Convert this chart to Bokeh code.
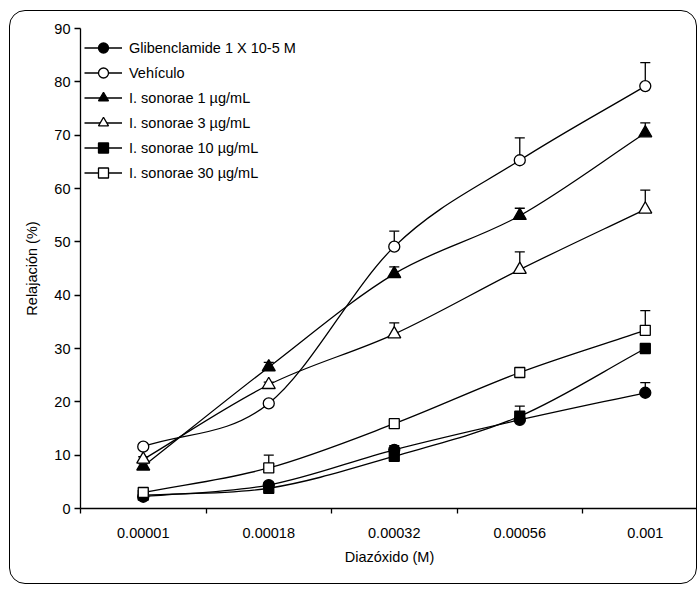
import numpy as np
from bokeh.plotting import figure
from bokeh.models import FixedTicker, Legend, LegendItem, Range1d
from bokeh.embed import file_html
from bokeh.resources import INLINE

# Diazoxide concentrations (M), one category per dose
doses = ["0.00001", "0.00018", "0.00032", "0.00056", "0.001"]

# Mean relaxation (%) and upper error (SEM) for each treatment
glib = [2.2, 4.4, 11.0, 16.6, 21.7]
glib_err = [0.3, 0.5, 0.8, 0.8, 1.9]
vehiculo = [11.6, 19.7, 49.1, 65.3, 79.2]
vehiculo_err = [0.5, 0.5, 2.9, 4.2, 4.4]
is1 = [7.9, 26.5, 44.0, 54.9, 70.4]
is1_err = [0.5, 0.9, 1.3, 1.4, 1.9]
is3 = [9.2, 23.2, 32.7, 44.8, 56.1]
is3_err = [0.5, 0.5, 2.1, 3.3, 3.6]
is10 = [2.5, 3.8, 9.8, 17.3, 30.0]
is10_err = [0.3, 0.5, 0.5, 1.9, 0.5]
is30 = [3.0, 7.6, 15.9, 25.5, 33.4]
is30_err = [0.3, 2.4, 0.5, 0.5, 3.7]

FONT = "Liberation Sans"

series = [
    ("Glibenclamide 1 X 10-5 M", glib, glib_err, "circle", "black", 11),
    ("Vehículo", vehiculo, vehiculo_err, "circle", "white", 11),
    ("I. sonorae 1 µg/mL", is1, is1_err, "triangle", "black", 13),
    ("I. sonorae 3 µg/mL", is3, is3_err, "triangle", "white", 13),
    ("I. sonorae 10 µg/mL", is10, is10_err, "square", "black", 10),
    ("I. sonorae 30 µg/mL", is30, is30_err, "square", "white", 10),
]

x = np.arange(len(doses), dtype=float)


def spline_beziers(xs, ys):
    """Cardinal (Catmull-Rom) spline through the points, as cubic Bezier segments."""
    ys = np.asarray(ys, dtype=float)
    n = len(ys)
    m = np.zeros(n)
    m[0] = ys[1] - ys[0]
    m[-1] = ys[-1] - ys[-2]
    for i in range(1, n - 1):
        m[i] = (ys[i + 1] - ys[i - 1]) / 2.0
    x0, y0 = xs[:-1], ys[:-1]
    x1, y1 = xs[1:], ys[1:]
    cx0, cy0 = x0 + 1 / 3, y0 + m[:-1] / 3
    cx1, cy1 = x1 - 1 / 3, y1 - m[1:] / 3
    return dict(x0=x0, y0=y0, x1=x1, y1=y1, cx0=cx0, cy0=cy0, cx1=cx1, cy1=cy1)


p = figure(
    width=688, height=574,
    x_range=Range1d(-0.5, 4.424), y_range=Range1d(0, 90),
    output_backend="svg", toolbar_location=None,
    min_border_left=70, min_border_right=0, min_border_top=17, min_border_bottom=77,
)
p.styles = {
    "margin-left": "9px",
    "margin-top": "10px",
    "border": "1.5px solid #000",
    "border-radius": "16px",
}
p.border_fill_color = None
p.background_fill_color = None
p.outline_line_color = None
p.xgrid.grid_line_color = None
p.ygrid.grid_line_color = None

# Curves first, then upper error bars, then markers on top
for label, ys, err, marker, fill, size in series:
    p.bezier(line_color="black", line_width=1.3, **spline_beziers(x, ys))

cap = 0.04
for label, ys, err, marker, fill, size in series:
    top = np.asarray(ys) + np.asarray(err)
    p.segment(x0=x, y0=ys, x1=x, y1=top, line_color="black", line_width=1.3)
    p.segment(x0=x - cap, y0=top, x1=x + cap, y1=top, line_color="black", line_width=1.3)

items = []
for label, ys, err, marker, fill, size in series:
    # placeholder line (NaN point) used only for the legend swatch
    lr = p.line(x=[np.nan], y=[np.nan], line_color="black", line_width=1.3)
    sr = p.scatter(x=x, y=ys, marker=marker, size=size, fill_color=fill,
                   line_color="black", line_width=1.3)
    items.append(LegendItem(label=label, renderers=[lr, sr]))

legend = Legend(
    items=items, location=(4, 323),
    glyph_width=38, glyph_height=25, label_height=25, spacing=0,
    padding=0, margin=0, label_standoff=7,
    border_line_color=None, background_fill_alpha=0,
    label_text_font=FONT, label_text_font_size="14.5px", label_text_color="black",
)
p.add_layout(legend)

# Axes
xa = p.xaxis[0]
xa.ticker = FixedTicker(ticks=list(x), minor_ticks=[-0.5, 0.5, 1.5, 2.5, 3.5])
xa.major_label_overrides = {i: d for i, d in enumerate(doses)}
xa.major_tick_out = 0
xa.major_tick_in = 0
xa.minor_tick_out = 5
xa.minor_tick_in = 0
xa.minor_tick_line_color = "black"
xa.minor_tick_line_width = 1.3
xa.major_label_standoff = 14
xa.axis_label = "Diazóxido (M)"
xa.axis_label_standoff = 8

ya = p.yaxis[0]
ya.ticker = FixedTicker(ticks=list(range(0, 91, 10)))
ya.major_tick_out = 6
ya.major_tick_in = 0
ya.minor_tick_line_color = None
ya.major_label_standoff = 4
ya.axis_label = "Relajación (%)"
ya.axis_label_standoff = 11

for ax in (xa, ya):
    ax.axis_line_color = "black"
    ax.axis_line_width = 1.3
    ax.major_tick_line_color = "black"
    ax.major_tick_line_width = 1.3
    ax.major_label_text_font = FONT
    ax.major_label_text_font_size = "14.5px"
    ax.major_label_text_color = "black"
    ax.axis_label_text_font = FONT
    ax.axis_label_text_font_size = "14.5px"
    ax.axis_label_text_font_style = "normal"
    ax.axis_label_text_color = "black"

open("out.html", "w").write(file_html(p, INLINE))
